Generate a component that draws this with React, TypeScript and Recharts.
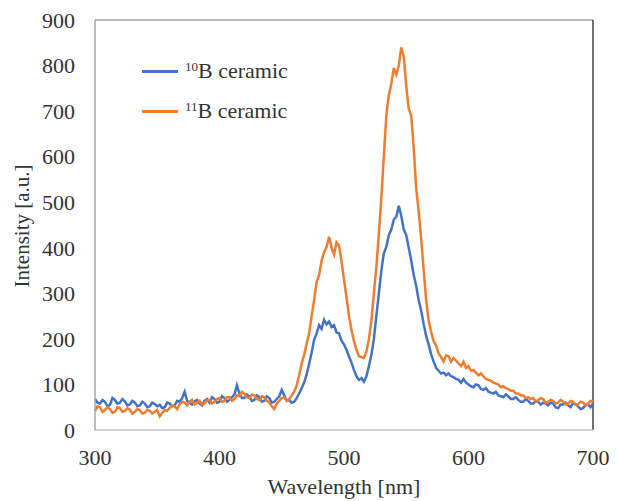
import React from 'react';
import { LineChart, Line, XAxis, YAxis, Legend, ReferenceLine } from 'recharts';

const wavelengths = [
  300, 302, 304, 306, 308, 310, 312, 314, 316, 318,
  320, 322, 324, 326, 328, 330, 332, 334, 336, 338,
  340, 342, 344, 346, 348, 350, 352, 354, 356, 358,
  360, 362, 364, 366, 368, 370, 372, 374, 376, 378,
  380, 382, 384, 386, 388, 390, 392, 394, 396, 398,
  400, 402, 404, 406, 408, 410, 412, 414, 416, 418,
  420, 422, 424, 426, 428, 430, 432, 434, 436, 438,
  440, 442, 444, 446, 448, 450, 452, 454, 456, 458,
  460, 462, 464, 466, 468, 470, 472, 474, 476, 478,
  480, 482, 484, 486, 488, 490, 492, 494, 496, 498,
  500, 502, 504, 506, 508, 510, 512, 514, 516, 518,
  520, 522, 524, 526, 528, 530, 532, 534, 536, 538,
  540, 542, 544, 546, 548, 550, 552, 554, 556, 558,
  560, 562, 564, 566, 568, 570, 572, 574, 576, 578,
  580, 582, 584, 586, 588, 590, 592, 594, 596, 598,
  600, 602, 604, 606, 608, 610, 612, 614, 616, 618,
  620, 622, 624, 626, 628, 630, 632, 634, 636, 638,
  640, 642, 644, 646, 648, 650, 652, 654, 656, 658,
  660, 662, 664, 666, 668, 670, 672, 674, 676, 678,
  680, 682, 684, 686, 688, 690, 692, 694, 696, 698,
  700,
];

const b10Ceramic = [
  68, 60, 58, 66, 62, 52, 55, 70, 66, 58,
  60, 68, 63, 54, 56, 64, 60, 52, 54, 62,
  58, 50, 52, 60, 57, 52, 55, 48, 50, 60,
  58, 52, 54, 64, 62, 70, 84, 64, 60, 56,
  63, 66, 58, 54, 64, 68, 60, 72, 68, 60,
  62, 74, 70, 62, 66, 72, 78, 98, 80, 70,
  70, 78, 74, 64, 66, 76, 72, 62, 64, 74,
  70, 60, 62, 68, 74, 88, 76, 64, 66, 60,
  62, 70, 80, 92, 104, 122, 145, 170, 198, 212,
  230, 222, 242, 232, 238, 226, 230, 214, 212, 196,
  188, 176, 162, 148, 132, 118, 110, 114, 106, 118,
  140, 165, 200, 250, 300, 350, 388, 402, 428, 440,
  462, 468, 492, 470, 440, 428, 400, 372, 340, 316,
  285, 262, 232, 206, 188, 166, 150, 136, 130, 124,
  126, 120, 124, 118, 116, 112, 110, 104, 112, 104,
  100, 96, 94, 100, 98, 90, 88, 92, 84, 82,
  80, 84, 76, 74, 72, 78, 74, 68, 68, 72,
  66, 62, 62, 68, 64, 58, 58, 64, 62, 56,
  60, 58, 54, 60, 58, 50, 48, 56, 56, 60,
  54, 50, 60, 56, 52, 46, 48, 54, 56, 50,
  58,
];

const b11Ceramic = [
  42, 52, 50, 40, 44, 50, 46, 38, 40, 50,
  48, 40, 42, 48, 45, 36, 40, 46, 44, 36,
  38, 44, 42, 36, 40, 44, 30, 38, 44, 42,
  48, 54, 52, 46, 56, 62, 60, 54, 62, 66,
  56, 60, 64, 56, 58, 66, 66, 58, 62, 68,
  70, 62, 64, 72, 72, 64, 68, 76, 74, 84,
  80, 72, 70, 78, 76, 68, 66, 74, 72, 64,
  60, 52, 46, 58, 64, 70, 72, 64, 68, 76,
  84, 98, 120, 146, 165, 190, 212, 250, 285, 325,
  340, 372, 390, 402, 424, 400, 385, 412, 405, 370,
  330, 292, 250, 220, 195, 176, 162, 160, 158, 172,
  200, 240, 300, 358, 430, 510, 600, 690, 735, 760,
  795, 780, 800, 840, 820, 755, 705, 690, 620, 530,
  480, 420, 350, 285, 240, 215, 195, 185, 168, 160,
  150, 164, 162, 150, 158, 152, 146, 140, 150, 136,
  140, 130, 132, 126, 120, 124, 118, 112, 110, 108,
  104, 102, 100, 94, 96, 92, 90, 86, 86, 80,
  80, 76, 76, 70, 72, 68, 70, 62, 66, 70,
  68, 60, 62, 66, 64, 58, 60, 66, 62, 56,
  58, 64, 62, 56, 56, 62, 60, 54, 58, 64,
  62,
];

const xTicks = [300, 400, 500, 600, 700];
const yTicks = [0, 100, 200, 300, 400, 500, 600, 700, 800, 900];

const seriesNames = ['10B ceramic', '11B ceramic'];
const seriesColors = ['#4472C4', '#ED7D31'];

const data = wavelengths.map((wl, i) => ({
  wl,
  b10: b10Ceramic[i],
  b11: b11Ceramic[i],
}));

const FONT = "'Liberation Serif', 'DejaVu Serif', serif";
const TEXT_COLOR = '#333333';

const LegendContent = () => (
  <div style={{ fontFamily: FONT, fontSize: 22, color: TEXT_COLOR }}>
    {seriesNames.map((name, i) => {
      const iso = name.slice(0, 2);
      const rest = name.slice(2);
      return (
        <div key={name} style={{ display: 'flex', alignItems: 'center', height: 40 }}>
          <div style={{ width: 36, height: 3, background: seriesColors[i], marginRight: 7 }} />
          <span style={{ lineHeight: 1, whiteSpace: 'nowrap' }}>
            <span style={{ fontSize: 13, position: 'relative', top: -7 }}>{iso}</span>
            {rest}
          </span>
        </div>
      );
    })}
  </div>
);

export default function App() {
  return (
    <div style={{ position: 'absolute', left: 0, top: 0, background: '#fff', fontFamily: FONT }}>
      <LineChart
        width={618}
        height={501}
        data={data}
        margin={{ top: 20, right: 25, bottom: 0, left: 0 }}
        style={{ fontFamily: FONT }}
      >
        <XAxis
          dataKey="wl"
          type="number"
          domain={[300, 700]}
          ticks={xTicks}
          height={71}
          tickLine={false}
          tickSize={6}
          tickMargin={13}
          axisLine={{ stroke: '#bfbfbf', strokeWidth: 1.5 }}
          tick={{ fill: TEXT_COLOR, fontSize: 22, fontFamily: FONT }}
          label={{
            content: () => (
              <text
                x={344}
                y={494}
                textAnchor="middle"
                fill={TEXT_COLOR}
                fontSize={22}
                style={{ fontFamily: FONT }}
              >
                Wavelength [nm]
              </text>
            ),
          }}
        />
        <YAxis
          type="number"
          domain={[0, 900]}
          ticks={yTicks}
          width={95}
          tickLine={false}
          tickSize={6}
          tickMargin={14}
          axisLine={{ stroke: '#a6a6a6', strokeWidth: 1.5 }}
          tick={{ fill: TEXT_COLOR, fontSize: 22, fontFamily: FONT }}
          label={{
            content: () => (
              <text
                x={22}
                y={226}
                transform="rotate(-90 22 226)"
                textAnchor="middle"
                dominantBaseline="central"
                fill={TEXT_COLOR}
                fontSize={21}
                style={{ fontFamily: FONT }}
              >
                Intensity [a.u.]
              </text>
            ),
          }}
        />
        <ReferenceLine y={900} stroke="#a6a6a6" strokeWidth={1.5} />
        <ReferenceLine x={700} stroke="#404040" strokeWidth={1.5} />
        <Legend
          layout="vertical"
          align="center"
          verticalAlign="middle"
          wrapperStyle={{ left: 142, top: 51, width: 200 }}
          content={() => <LegendContent />}
        />
        <Line
          dataKey="b10"
          name={seriesNames[0]}
          stroke={seriesColors[0]}
          strokeWidth={2.5}
          dot={false}
          type="linear"
          isAnimationActive={false}
        />
        <Line
          dataKey="b11"
          name={seriesNames[1]}
          stroke={seriesColors[1]}
          strokeWidth={2.5}
          dot={false}
          type="linear"
          isAnimationActive={false}
        />
      </LineChart>
    </div>
  );
}
